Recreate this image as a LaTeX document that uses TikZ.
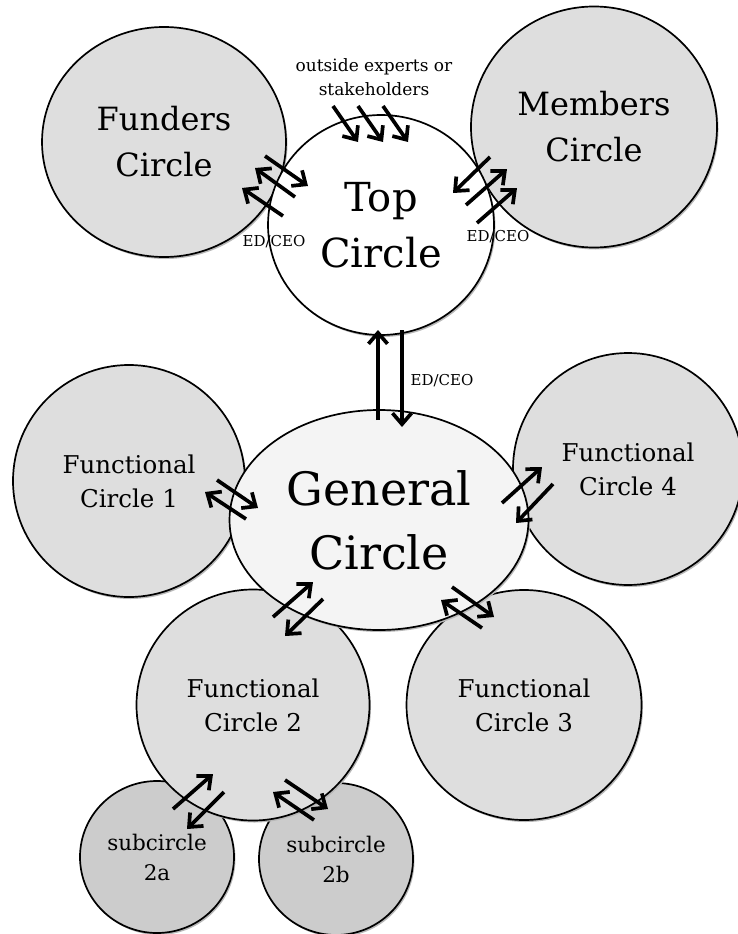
\documentclass[tikz,border=0pt]{standalone}
\usepackage{fontspec}
\setmainfont{DejaVu Serif}
\usetikzlibrary{arrows.meta,shapes.geometric,shadows,calc}
\definecolor{circlegrey}{gray}{0.87}
\definecolor{subgrey}{gray}{0.8}
\definecolor{palegrey}{gray}{0.955}
\definecolor{shadowgrey}{gray}{0.72}

\begin{document}
\begin{tikzpicture}[x=1pt,y=-1pt]

\tikzset{circlenode/.style={shape=ellipse,draw=black,line width=1.7pt,fill=circlegrey,align=center,inner sep=0pt,
  drop shadow={shadow xshift=1.5pt,shadow yshift=-2pt,fill=shadowgrey,opacity=1}},
subnode/.style={circlenode,fill=subgrey,font=\fontsize{21.5}{30}\selectfont},
funcnode/.style={circlenode,font=\fontsize{24.5}{34}\selectfont},
flowarrow/.style={line width=3.7pt,-{Straight Barb[length=11pt,width=19pt]}},
smalllabel/.style={font=\fontsize{15}{18}\selectfont}}

\useasboundingbox (0,0) rectangle (738,934);

% subcircles
\node[subnode,minimum width=154pt,minimum height=152pt] (sub2a) at (157,857) {subcircle\\2a};
\node[subnode,minimum width=154pt,minimum height=152pt] (sub2b) at (336,859) {subcircle\\2b};

% functional circles
\node[funcnode,minimum width=233pt,minimum height=231pt] (func2) at (253,705) {Functional\\Circle 2};
\node[funcnode,minimum width=232pt,minimum height=232pt] (func1) at (129,481) {Functional\\Circle 1};
\node[funcnode,minimum width=235pt,minimum height=230pt] (func3) at (524,705) {Functional\\Circle 3};
\node[funcnode,minimum width=230pt,minimum height=232pt] (func4) at (628,469) {Functional\\Circle 4};

% general circle
\node[circlenode,fill=palegrey,minimum width=299pt,minimum height=220pt,font=\fontsize{46}{64}\selectfont] (general) at (379,520) {General\\Circle};

% top level
\node[circlenode,minimum width=244pt,minimum height=230pt,font=\fontsize{32}{46}\selectfont] (funders) at (164,142) {Funders\\Circle};
\node[circlenode,minimum width=246pt,minimum height=241pt,font=\fontsize{32}{46}\selectfont] (members) at (594,127) {Members\\Circle};
\node[circlenode,fill=white,minimum width=226pt,minimum height=220pt,font=\fontsize{40}{56}\selectfont] (top) at (381,225) {Top\\Circle};

% labels
\node[align=center,font=\fontsize{17}{24}\selectfont] (experts) at (374,77) {outside experts or\\stakeholders};
\node[smalllabel] (edleft) at (274,242) {ED/CEO};
\node[smalllabel] (edright) at (498,237) {ED/CEO};
\node[smalllabel] (edmid) at (442,381) {ED/CEO};

% arrows
\foreach \tx/\ty/\hx/\hy [count=\n] in {333/106/358/142, 358/106/383/142, 383/106/408/142,
  265/156/308/186, 295/197/255/168, 283/216/242/188,
  490/157/453/193, 466/205/507/169, 477/223/517/188,
  378/420/378/330, 402/330/402/427,
  217/480/258/508, 246/519/205/492,
  502/503/542/467, 553/484/516/523,
  482/628/441/600, 452/587/494/617,
  273/617/313/582, 323/599/285/636,
  173/809/213/774, 224/792/187/829, 285/780/328/809, 314/820/273/792}
{
  \coordinate (tail\n) at (\tx,\ty);
  \coordinate (head\n) at (\hx,\hy);
  \draw[flowarrow] (tail\n) -- (head\n);
}

\end{tikzpicture}
\end{document}
